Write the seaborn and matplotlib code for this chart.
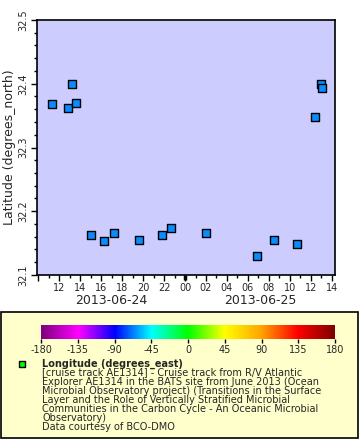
import pandas as pd
import numpy as np
import matplotlib
matplotlib.use("Agg")
import matplotlib.pyplot as plt
import matplotlib.dates as mdates
from matplotlib.colors import LinearSegmentedColormap
from matplotlib.patches import Rectangle
import seaborn as sns

# Cruise track points
times = [
    "2013-06-24 11:16", "2013-06-24 12:48", "2013-06-24 13:11", "2013-06-24 13:35",
    "2013-06-24 15:00", "2013-06-24 16:14", "2013-06-24 17:11", "2013-06-24 19:37",
    "2013-06-24 21:48", "2013-06-24 22:38", "2013-06-25 02:00", "2013-06-25 06:52",
    "2013-06-25 08:29", "2013-06-25 10:40", "2013-06-25 12:23", "2013-06-25 12:57",
    "2013-06-25 13:04",
]
latitude = [
    32.369, 32.362, 32.400, 32.370,
    32.163, 32.154, 32.166, 32.155,
    32.162, 32.174, 32.166, 32.130,
    32.155, 32.149, 32.348, 32.400,
    32.394,
]
cbar_ticks = [-180, -135, -90, -45, 0, 45, 90, 135, 180]
legend_lines = [
    "[cruise track AE1314] - Cruise track from R/V Atlantic",
    "Explorer AE1314 in the BATS site from June 2013 (Ocean",
    "Microbial Observatory project) (Transitions in the Surface",
    "Layer and the Role of Vertically Stratified Microbial",
    "Communities in the Carbon Cycle - An Oceanic Microbial",
    "Observatory)",
    "Data courtesy of BCO-DMO",
]

df = pd.DataFrame({"time": pd.to_datetime(times), "lat": latitude})

rainbow = LinearSegmentedColormap.from_list(
    "rainbow2",
    ["#800080", "#ff00ff", "#0000ff", "#00ffff", "#00ff00",
     "#ffff00", "#ffa500", "#ff0000", "#800000"])

sns.set_theme(style="ticks")
plt.rcParams["font.family"] = ["DejaVu Sans"]

fig = plt.figure(figsize=(3.6, 4.4), dpi=100)
fig.patch.set_facecolor("white")

# legend panel background (behind everything)
fig.patches.append(Rectangle((1 / 360, 2 / 440), 357 / 360, 126 / 440,
                             transform=fig.transFigure, facecolor="#ffffcc",
                             edgecolor="black", lw=1.2, zorder=-5))

ax = fig.add_axes([37 / 360, 165 / 440, 298 / 360, 255 / 440])
ax.set_facecolor("#ccccff")
sns.scatterplot(data=df, x="time", y="lat", marker="s", s=30, color="#0a8cff",
                edgecolor="black", linewidth=1, ax=ax, zorder=3)

t0 = pd.Timestamp("2013-06-24 09:52")
t1 = pd.Timestamp("2013-06-25 14:19")
midnight = pd.Timestamp("2013-06-25 00:00")
ax.set_xlim(t0, t1)
ax.set_ylim(32.1, 32.5)
ax.set_yticks([32.1, 32.2, 32.3, 32.4, 32.5])
ax.set_yticks(np.arange(32.1, 32.5, 0.02), minor=True)
ax.xaxis.set_major_locator(mdates.HourLocator(byhour=range(0, 24, 2)))
ax.xaxis.set_minor_locator(mdates.HourLocator())

first_label = mdates.date2num(t0 + pd.Timedelta(minutes=30))


def hour_label(x, pos):
    # no label for a tick hugging the left edge
    if x < first_label:
        return ""
    return mdates.num2date(x).strftime("%H")


ax.xaxis.set_major_formatter(plt.FuncFormatter(hour_label))
ax.tick_params(axis="both", which="major", length=4, width=1, labelsize=7,
               color="black", pad=2)
ax.tick_params(axis="both", which="minor", length=2.5, width=1, color="black")
for lab in ax.get_yticklabels():
    lab.set_rotation(90)
    lab.set_va("center")
for sp in ax.spines.values():
    sp.set_color("black")
    sp.set_linewidth(1.2)
ax.set_xlabel("")
ax.set_ylabel("Latitude (degrees_north)", fontsize=9, labelpad=2)

# heavier tick at the day boundary
ax.plot([midnight, midnight], [0, -0.018], color="black", lw=2.5,
        transform=ax.get_xaxis_transform(), clip_on=False, solid_capstyle="butt")

# day labels centred on the visible part of each day
for a, b, name in [(t0, midnight, "2013-06-24"), (midnight, t1, "2013-06-25")]:
    mid = a + (b - a) / 2
    ax.text(mdates.date2num(mid), -0.1, name, transform=ax.get_xaxis_transform(),
            ha="center", va="center", fontsize=9)

# colorbar
cax = fig.add_axes([41 / 360, 101 / 440, 294 / 360, 14 / 440])
grad = np.linspace(-180, 180, 361)
cax.imshow(grad[np.newaxis, :], aspect="auto", cmap=rainbow,
           extent=[-180, 180, 0, 1])
cax.set_xlim(-180, 180)
cax.set_yticks([])
cax.set_xticks(cbar_ticks)
cax.set_xticklabels([str(v) for v in cbar_ticks])
cax.tick_params(axis="x", length=3, width=1, labelsize=7, pad=1, color="black")
for sp in cax.spines.values():
    sp.set_visible(False)

# legend entry
fig.add_artist(plt.Line2D([21.7 / 360], [1 - 364.3 / 440], marker="s",
                          markersize=5, markerfacecolor="#00ff00",
                          markeredgecolor="black", markeredgewidth=1,
                          transform=fig.transFigure))
x_txt = 42.5 / 360
fig.text(x_txt, 1 - 363.5 / 440, "Longitude (degrees_east)", fontsize=7,
         fontweight="bold", va="center", ha="left")
for i, line in enumerate(legend_lines):
    fig.text(x_txt, 1 - (372.5 + 9 * i) / 440, line, fontsize=7,
             va="center", ha="left")

fig.savefig("out.png", dpi=100)
